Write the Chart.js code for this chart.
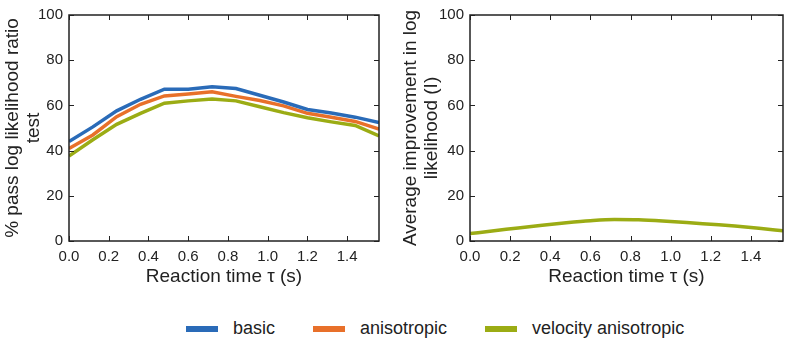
<!DOCTYPE html>
<html>
<head>
<meta charset="utf-8">
<script src="https://cdn.jsdelivr.net/npm/chart.js@4"></script>
<style>
  html, body { margin: 0; padding: 0; background: #fff; }
  body { width: 789px; height: 341px; position: relative; overflow: hidden;
         font-family: "Liberation Sans", Arial, sans-serif; color: #222; }
  #left { position: absolute; left: 0; top: 0; }
  #right { position: absolute; left: 398px; top: 0; }
  #legend { position: absolute; left: 186px; top: 318px; display: flex; align-items: center;
            font-size: 18px; }
  #legend .sw { width: 32px; height: 6px; margin-right: 15px; }
  #legend .item { display: flex; align-items: center; margin-right: 38px; }
</style>
</head>
<body>
<canvas id="left" width="396" height="292"></canvas>
<canvas id="right" width="391" height="292"></canvas>
<div id="legend"></div>

<script>
// reaction time tau (s)
const tau = [0, 0.12, 0.24, 0.36, 0.48, 0.6, 0.72, 0.84, 0.96, 1.08, 1.2, 1.32, 1.44, 1.56];

// % pass log likelihood ratio test
const basicPass = [44, 50.5, 57.6, 62.7, 67.2, 67.2, 68.2, 67.5, 64.5, 61.5, 58.2, 56.6, 54.8, 52.4];
const anisoPass = [40.9, 46.9, 55, 60.5, 64.2, 65, 66, 64, 62.2, 59.8, 56.5, 54.8, 52.9, 49.5];
const velPass = [37.6, 44.8, 51.6, 56.5, 61, 62, 62.8, 62, 59.4, 56.8, 54.5, 52.7, 51.1, 46.5];

// average improvement in log likelihood
const velImprove = [3.3, 4.5, 5.8, 7.0, 8.1, 9.0, 9.5, 9.4, 8.9, 8.2, 7.4, 6.6, 5.6, 4.5];

const seriesNames = ["basic", "anisotropic", "velocity anisotropic"];
const seriesColors = ["#2a6bb8", "#e8702a", "#9bac14"];

const FONT = "'Liberation Sans', Arial, sans-serif";

/* ---------- frame + inward ticks like matplotlib ---------- */
const frameTicks = {
  id: "frameTicks",
  afterDatasetsDraw(chart) {
    const { ctx, chartArea: a, scales } = chart;
    const len = 5;
    ctx.save();
    ctx.strokeStyle = "#222";
    ctx.lineWidth = 1;
    ctx.beginPath();
    scales.x.ticks.forEach(t => {
      const px = Math.round(scales.x.getPixelForValue(t.value)) + 0.5;
      ctx.moveTo(px, a.bottom); ctx.lineTo(px, a.bottom - len);
      ctx.moveTo(px, a.top); ctx.lineTo(px, a.top + len);
    });
    scales.y.ticks.forEach(t => {
      const py = Math.round(scales.y.getPixelForValue(t.value)) + 0.5;
      ctx.moveTo(a.left, py); ctx.lineTo(a.left + len, py);
      ctx.moveTo(a.right, py); ctx.lineTo(a.right - len, py);
    });
    ctx.stroke();
    ctx.lineWidth = 1.5;
    ctx.strokeRect(a.left, a.top, a.right - a.left, a.bottom - a.top);
    ctx.restore();
  }
};

function makeOptions(yTitle, yWidth, padRight) {
  return {
    responsive: false,
    animation: false,
    layout: { padding: { top: 8, right: padRight, left: 0, bottom: 0 } },
    plugins: { legend: { display: false }, tooltip: { enabled: false } },
    elements: { point: { radius: 0 } },
    scales: {
      x: {
        type: "linear",
        min: 0, max: 1.56,
        grid: { display: false, drawTicks: false },
        border: { display: false },
        ticks: {
          stepSize: 0.2, includeBounds: false, padding: 7,
          color: "#222", font: { family: FONT, size: 15 },
          maxRotation: 0,
          callback: v => v.toFixed(1)
        },
        title: {
          display: true, text: "Reaction time τ (s)", color: "#222",
          font: { family: FONT, size: 19, lineHeight: 1.15 },
          padding: { top: 0, bottom: 4 }
        },
        afterFit: s => { s.height = 51; }
      },
      y: {
        min: 0, max: 100,
        grid: { display: false, drawTicks: false },
        border: { display: false },
        ticks: { stepSize: 20, padding: 6, color: "#222", font: { family: FONT, size: 15 } },
        title: {
          display: true, text: yTitle, color: "#222",
          font: { family: FONT, size: 19, lineHeight: 1.1 },
          padding: { top: 2, bottom: 0 }
        },
        afterFit: s => { s.width = yWidth; }
      }
    }
  };
}

const passSeries = [basicPass, anisoPass, velPass];

new Chart(document.getElementById("left"), {
  type: "line",
  data: {
    datasets: passSeries.map((vals, i) => ({
      label: seriesNames[i],
      data: tau.map((t, j) => ({ x: t, y: vals[j] })),
      borderColor: seriesColors[i],
      borderWidth: 3.5,
      tension: 0,
      fill: false
    }))
  },
  options: makeOptions(["% pass log likelihood ratio", "test"], 69, 17),
  plugins: [frameTicks]
});

new Chart(document.getElementById("right"), {
  type: "line",
  data: {
    datasets: [{
      label: seriesNames[2],
      data: tau.map((t, j) => ({ x: t, y: velImprove[j] })),
      borderColor: seriesColors[2],
      borderWidth: 3.5,
      cubicInterpolationMode: "monotone",
      fill: false
    }]
  },
  options: makeOptions(["Average improvement in log", "likelihood (I)"], 72, 6),
  plugins: [frameTicks]
});

/* ---------- shared legend ---------- */
const legend = document.getElementById("legend");
seriesNames.forEach((name, i) => {
  const item = document.createElement("div");
  item.className = "item";
  item.innerHTML = `<div class="sw" style="background:${seriesColors[i]}"></div><span>${name}</span>`;
  legend.appendChild(item);
});
</script>
</body>
</html>
